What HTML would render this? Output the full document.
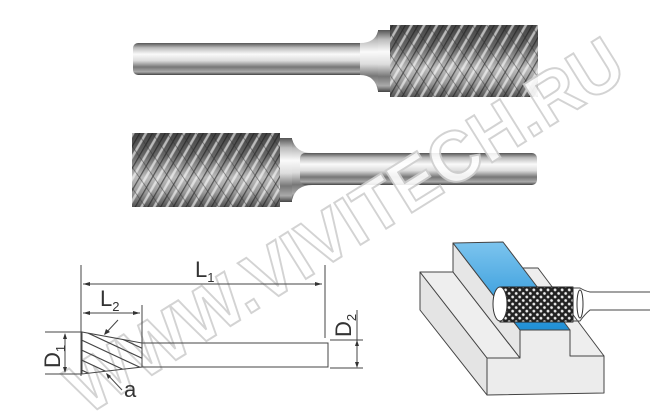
<!DOCTYPE html>
<html><head><meta charset="utf-8"><style>
html,body{margin:0;padding:0;background:#fff;}
svg{display:block;}
text{font-family:"Liberation Sans",sans-serif;}
</style></head><body>
<svg width="670" height="420" viewBox="0 0 670 420" xmlns="http://www.w3.org/2000/svg">
<defs>
<linearGradient id="shank" x1="0" y1="0" x2="0" y2="1">
<stop offset="0" stop-color="#555"/><stop offset="0.15" stop-color="#bbb"/><stop offset="0.35" stop-color="#fafafa"/><stop offset="0.55" stop-color="#ddd"/><stop offset="0.75" stop-color="#777"/><stop offset="0.9" stop-color="#aaa"/><stop offset="1" stop-color="#444"/>
</linearGradient>
<linearGradient id="head" x1="0" y1="0" x2="0" y2="1">
<stop offset="0" stop-color="#444"/><stop offset="0.3" stop-color="#666"/><stop offset="0.6" stop-color="#bbb"/><stop offset="0.8" stop-color="#999"/><stop offset="1" stop-color="#555"/>
</linearGradient>
<pattern id="cross" width="11" height="11" patternUnits="userSpaceOnUse" patternTransform="rotate(30)">
<line x1="0" y1="0" x2="0" y2="11" stroke="#1a1a1a" stroke-width="2.5"/>
<line x1="6" y1="0" x2="6" y2="11" stroke="#fff" stroke-width="2.5"/>
</pattern>
<pattern id="cross2" width="12" height="12" patternUnits="userSpaceOnUse" patternTransform="rotate(-35)">
<line x1="0" y1="0" x2="0" y2="12" stroke="#333" stroke-width="1.5"/>
</pattern>
<pattern id="mesh" width="5" height="5" patternUnits="userSpaceOnUse" patternTransform="rotate(45)">
<rect width="5" height="5" fill="#222"/><circle cx="2.5" cy="2.5" r="1.4" fill="#eee"/>
</pattern>
<linearGradient id="blue" x1="0" y1="0" x2="0" y2="1">
<stop offset="0" stop-color="#7cc4ee"/><stop offset="1" stop-color="#1f8fd6"/>
</linearGradient>
<clipPath id="hatch"><polygon points="82,332 142,343 142,367 82,374"/></clipPath>
</defs>

<!-- top burr -->
<rect x="133" y="43" width="250" height="32" rx="5" fill="url(#shank)"/>
<path d="M360,43 Q375,43 378,31 L378,91 Q375,75 360,75 Z" fill="url(#shank)"/>
<rect x="378" y="30" width="12" height="62" fill="url(#shank)"/>
<rect x="390" y="25" width="148" height="72" fill="url(#head)"/>
<rect x="390" y="25" width="148" height="72" fill="url(#cross)" opacity="0.6"/>
<rect x="390" y="25" width="148" height="72" fill="url(#cross2)" opacity="0.6"/>

<!-- bottom burr -->
<rect x="132" y="133" width="148" height="74" fill="url(#head)"/>
<rect x="132" y="133" width="148" height="74" fill="url(#cross)" opacity="0.6"/>
<rect x="132" y="133" width="148" height="74" fill="url(#cross2)" opacity="0.6"/>
<rect x="280" y="138" width="12" height="64" fill="url(#shank)"/>
<path d="M292,139 Q296,153 312,153 L312,185 Q296,185 292,200 Z" fill="url(#shank)"/>
<rect x="300" y="153" width="237" height="32" rx="5" fill="url(#shank)"/>

<!-- watermark -->
<text x="345" y="250" text-anchor="middle" font-size="72" font-weight="bold" fill="#fff" stroke="#cfcfcf" stroke-width="2" textLength="640" lengthAdjust="spacingAndGlyphs" transform="rotate(-32 345 225)" opacity="0.9">WWW.VIVITECH.RU</text>

<!-- left diagram -->
<g stroke="#444" stroke-width="1" fill="none">
<line x1="81" y1="265" x2="81" y2="376"/>
<line x1="325" y1="265" x2="325" y2="338"/>
<line x1="83" y1="284" x2="322" y2="284"/>
<line x1="83" y1="313" x2="140" y2="313"/>
<line x1="142" y1="305" x2="142" y2="343"/>
<polygon points="82,332 142,343 142,367 82,374"/>
<rect x="142" y="343" width="186" height="24"/>
<line x1="45" y1="332" x2="82" y2="332"/>
<line x1="45" y1="374" x2="82" y2="374"/>
<line x1="65" y1="334" x2="65" y2="372"/>
<line x1="330" y1="340" x2="363" y2="340"/>
<line x1="330" y1="368" x2="363" y2="368"/>
<line x1="357" y1="310" x2="357" y2="366"/>
<line x1="118" y1="320" x2="105" y2="334"/>
<line x1="107" y1="374" x2="122" y2="390"/>
<g clip-path="url(#hatch)" stroke-width="1.2">
<line x1="60" y1="330" x2="150" y2="372"/>
<line x1="60" y1="340" x2="150" y2="382"/>
<line x1="60" y1="350" x2="150" y2="392"/>
<line x1="60" y1="360" x2="150" y2="402"/>
<line x1="60" y1="320" x2="150" y2="362"/>
<line x1="60" y1="310" x2="150" y2="352"/>
<line x1="60" y1="300" x2="150" y2="342"/>
<line x1="60" y1="290" x2="150" y2="332"/>
</g>
</g>
<g fill="#333">
<polygon points="83,284 90,282 90,286"/><polygon points="322,284 315,282 315,286"/>
<polygon points="83,313 90,311 90,315"/><polygon points="140,313 133,311 133,315"/>
<polygon points="65,333 63,339 67,339"/><polygon points="65,373 63,367 67,367"/>
<polygon points="357,340 355,346 359,346"/><polygon points="357,368 355,362 359,362"/>
<polygon points="104,335 106,329 110,332"/><polygon points="106,373 108,379 111,376"/>
</g>
<g fill="#333" font-size="22">
<text x="195" y="277">L<tspan font-size="13" dy="5">1</tspan></text>
<text x="100" y="306">L<tspan font-size="13" dy="5">2</tspan></text>
<text x="124" y="397">a</text>
<text transform="translate(60,368) rotate(-90)">D<tspan font-size="13" dy="5">1</tspan></text>
<text transform="translate(351,337) rotate(-90)">D<tspan font-size="13" dy="5">2</tspan></text>
</g>

<!-- right diagram -->
<g stroke="#444" stroke-width="1" stroke-linejoin="round">
<polygon points="420,272 487,358 487,395 420,310" fill="#e4e4e4"/>
<polygon points="420,272 453,272 520,358 487,358" fill="#eeeeee"/>
<polygon points="515,268 538,268 604,356 570,356" fill="#eeeeee"/>
<polygon points="453,243 520,330 520,358 453,272" fill="#e6e6e6"/>
<polygon points="453,243 503,242 570,330 520,330" fill="url(#blue)"/>
<polygon points="487,358 520,358 520,330 570,330 570,356 604,356 604,393 487,395" fill="#ececec"/>
<rect x="500" y="287" width="73" height="35" fill="url(#mesh)" stroke="#222"/>
<ellipse cx="500" cy="304" rx="7" ry="17" fill="#fff" stroke="#333"/>
<path d="M573,288 L580,288 Q585,291 590,292 L650,292 M573,321 L580,321 Q585,314 590,310 L650,310" fill="#fff"/>
<ellipse cx="580" cy="304" rx="3" ry="14" fill="#fff" stroke="#333"/>
</g>
</svg>
</body></html>
